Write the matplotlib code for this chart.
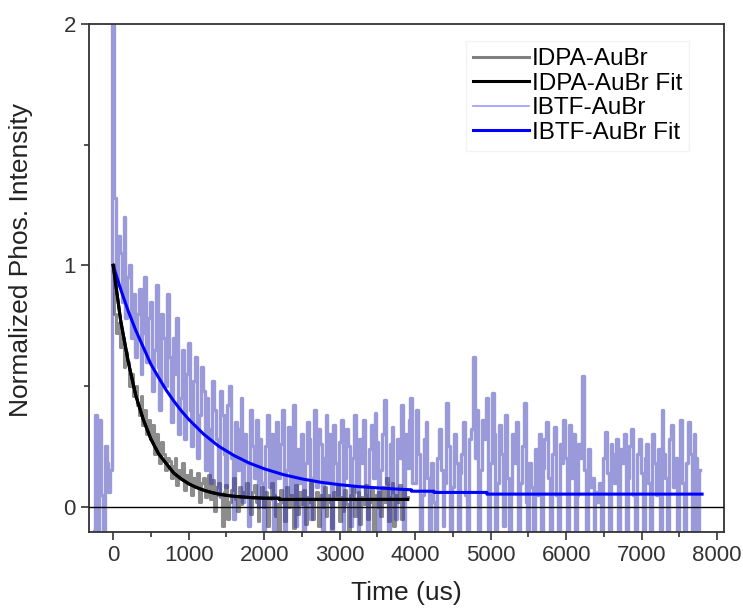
import numpy as np
import matplotlib
matplotlib.use("Agg")
import matplotlib.pyplot as plt
from matplotlib.ticker import MultipleLocator

plt.rcParams['font.family'] = ['Liberation Sans', 'DejaVu Sans']

# ---- data ----
# IDPA-AuBr decay, sampled every 25 us from 0 to 3900 us
idpa_t = np.arange(0, 3901, 25)
idpa_y = [
    1.00, 0.80, 0.72, 0.76, 0.66, 0.70, 0.58, 0.64, 0.60, 0.50,
    0.55, 0.46, 0.50, 0.42, 0.38, 0.46, 0.34, 0.40, 0.30, 0.36,
    0.28, 0.34, 0.22, 0.30, 0.25, 0.18, 0.27, 0.22, 0.15, 0.20,
    0.19, 0.12, 0.17, 0.20, 0.09, 0.15, 0.12, 0.18, 0.07, 0.13,
    0.10, 0.15, 0.05, 0.12, 0.08, 0.14, 0.02, 0.10, 0.12, 0.04,
    0.09, 0.13, 0.03, 0.11, -0.02, 0.08, 0.10, 0.04, -0.08, 0.06,
    0.09, -0.05, 0.02, 0.07, 0.12, 0.03, -0.02, 0.08, 0.01, 0.06,
    0.05, 0.10, 0.04, -0.03, 0.06, 0.09, 0.02, -0.06, 0.04, 0.08,
    0.00, 0.06, -0.08, 0.03, 0.10, 0.05, -0.04, 0.01, -0.10, 0.07,
    0.02, -0.06, 0.08, 0.00, 0.05, 0.04, -0.09, 0.09, -0.03, 0.06,
    0.01, 0.07, -0.07, 0.04, 0.02, 0.10, -0.05, 0.03, 0.06, -0.08,
    0.05, 0.00, 0.08, -0.04, 0.05, 0.02, -0.09, 0.06, 0.03, 0.09,
    -0.06, 0.04, -0.02, 0.07, 0.01, -0.10, 0.05, 0.08, -0.04, 0.03,
    0.06, -0.07, 0.04, 0.01, 0.09, -0.05, 0.02, 0.07, -0.10, 0.05,
    0.00, 0.06, -0.04, 0.08, 0.02, 0.12, -0.06, 0.04, 0.10, -0.08,
    0.05, 0.02, 0.09, -0.05, 0.07, 0.03, 0.04,
]

# IBTF-AuBr decay, sampled every 25 us from -250 to 7775 us
ibtf_t = np.arange(-250, 7800, 25)
ibtf_y = [
    -0.10, 0.38, -0.10, 0.36, 0.05, -0.10, 0.25, 0.18, 0.06, 0.15,
    2.00, 1.28, 0.92, 1.12, 1.05, 0.85, 1.20, 0.78, 0.95, 1.00,
    0.70, 0.88, 0.62, 0.80, 0.90, 0.55, 0.72, 0.95, 0.60, 0.78,
    0.85, 0.48, 0.65, 0.92, 0.58, 0.40, 0.80, 0.70, 0.50, 0.88,
    0.62, 0.35, 0.70, 0.55, 0.78, 0.30, 0.45, 0.65, 0.28, 0.55,
    0.68, 0.40, 0.25, 0.52, 0.62, 0.20, 0.38, 0.58, 0.48, 0.15,
    0.45, 0.32, 0.10, 0.52, 0.40, 0.28, 0.05, 0.48, 0.38, 0.22,
    0.08, 0.42, 0.50, 0.20, -0.05, 0.35, 0.15, 0.32, 0.45, 0.02,
    0.30, 0.18, -0.08, 0.40, 0.25, 0.12, 0.36, 0.00, 0.28, 0.10,
    -0.10, 0.25, 0.38, 0.08, 0.30, -0.12, 0.20, 0.35, 0.12, 0.26,
    0.40, -0.10, 0.15, 0.33, 0.05, 0.28, 0.42, -0.08, 0.24, 0.10,
    0.30, -0.12, 0.18, 0.35, 0.28, -0.05, 0.12, 0.40, 0.08, 0.32,
    0.26, -0.10, 0.20, 0.38, 0.10, 0.30, -0.12, 0.34, 0.18, 0.05,
    0.27, 0.36, -0.10, 0.12, 0.32, 0.25, -0.08, 0.20, 0.38, 0.06,
    -0.12, 0.28, 0.18, 0.36, 0.05, -0.10, 0.24, 0.34, 0.12, 0.39,
    0.27, -0.10, 0.15, 0.30, 0.44, 0.10, -0.12, 0.26, 0.33, 0.06,
    -0.05, 0.28, 0.20, 0.42, -0.12, 0.30, 0.16, 0.36, 0.45, 0.10,
    0.10, 0.40, 0.22, -0.12, 0.05, 0.28, 0.35, 0.12, -0.15, 0.18,
    0.02, -0.12, 0.20, 0.32, 0.15, -0.08, 0.10, 0.43, 0.25, -0.15,
    0.08, 0.30, 0.18, -0.12, 0.14, 0.22, 0.35, 0.05, -0.15, 0.28,
    0.32, 0.62, 0.20, 0.40, -0.12, 0.15, 0.36, 0.28, 0.45, -0.10,
    0.18, 0.47, 0.30, -0.15, 0.10, 0.34, 0.22, -0.08, 0.38, 0.12,
    -0.12, 0.06, 0.30, 0.18, 0.35, -0.15, 0.10, 0.25, 0.43, 0.02,
    -0.12, 0.18, 0.08, -0.15, 0.24, 0.05, 0.30, -0.10, 0.16, 0.28,
    0.35, 0.12, -0.12, 0.22, 0.33, 0.05, -0.15, 0.26, 0.18, 0.36,
    0.20, -0.10, 0.34, 0.12, 0.30, -0.15, 0.05, 0.26, 0.20, 0.54,
    0.15, -0.12, 0.24, 0.08, 0.12, -0.15, 0.06, 0.02, 0.10, -0.12,
    0.20, 0.31, 0.14, -0.12, 0.26, 0.22, 0.10, 0.28, -0.15, 0.24,
    0.18, 0.30, -0.12, 0.12, 0.25, 0.32, 0.05, -0.15, 0.22, 0.28,
    0.14, -0.10, 0.20, 0.26, 0.10, -0.15, 0.30, 0.18, 0.05, 0.24,
    -0.12, 0.40, 0.22, 0.12, -0.15, 0.28, 0.34, 0.08, 0.20, -0.12,
    0.16, 0.36, 0.10, -0.15, 0.18, 0.35, 0.22, -0.12, 0.30, 0.20,
    -0.10, 0.15,
]

# fitted curves
idpa_fit_t = [0, 100, 200, 300, 400, 500, 600, 700, 800, 900, 1000, 1100, 1200,
              1300, 1400, 1500, 1600, 1800, 2000, 2200, 2200, 3900]
idpa_fit_y = [1.00, 0.77, 0.60, 0.46, 0.36, 0.28, 0.22, 0.18, 0.14, 0.115, 0.095,
              0.08, 0.068, 0.059, 0.052, 0.047, 0.043, 0.038, 0.035, 0.035, 0.03, 0.03]

ibtf_fit_t = [0, 100, 200, 300, 400, 500, 600, 700, 800, 900, 1000, 1200, 1400,
              1600, 1800, 2000, 2250, 2500, 2750, 3000, 3250, 3500, 3750, 3950,
              3950, 4250, 4250, 4950, 4950, 7800]
ibtf_fit_y = [1.00, 0.90, 0.81, 0.73, 0.66, 0.59, 0.536, 0.484, 0.439, 0.398, 0.362,
              0.30, 0.25, 0.212, 0.181, 0.157, 0.133, 0.115, 0.101, 0.091, 0.083,
              0.078, 0.073, 0.070, 0.064, 0.064, 0.059, 0.059, 0.052, 0.052]

labels = ["IDPA-AuBr", "IDPA-AuBr Fit", "IBTF-AuBr", "IBTF-AuBr Fit"]

fig = plt.figure(figsize=(7.43, 6.10), dpi=100)
ax = fig.add_axes([89/743, 1-532/610, (724-89)/743, (532-24)/610])

ax.plot(idpa_t, idpa_y, color="#8c8c8c", lw=2.2, drawstyle="steps-mid", label=labels[0])
ax.plot(idpa_fit_t, idpa_fit_y, color="black", lw=2.2, label=labels[1])
ax.plot(ibtf_t, ibtf_y, color="#3636b8", alpha=0.5, lw=2.4, drawstyle="steps-mid", label=labels[2])
ax.plot(ibtf_fit_t, ibtf_fit_y, color="#0000ff", lw=2.2, label=labels[3])
ax.plot(idpa_fit_t, idpa_fit_y, color="black", lw=2.2)   # keep black fit on top
ax.axhline(0, color="black", lw=1.0, zorder=5)

ax.set_xlim(-320, 8090)
ax.set_ylim(-0.105, 2.0)
ax.xaxis.set_major_locator(MultipleLocator(1000))
ax.xaxis.set_minor_locator(MultipleLocator(500))
ax.yaxis.set_major_locator(MultipleLocator(1))
ax.yaxis.set_minor_locator(MultipleLocator(0.5))
ax.tick_params(which="both", direction="out", top=False, right=False,
               colors="#333333", labelsize=16, width=1.2)
ax.tick_params(which="major", length=6)
ax.tick_params(which="minor", length=3.5)
for sp in ax.spines.values():
    sp.set_color("#333333")
    sp.set_linewidth(1.3)

ax.set_xlabel("Time (us)", fontsize=19, color="#222222", labelpad=11)
ax.set_ylabel("Normalized Phos. Intensity", fontsize=19, color="#222222")
ax.yaxis.set_label_coords(-0.088, 0.535)

leg = ax.legend(loc="upper left", bbox_to_anchor=(466/743, 1-41/610),
                bbox_transform=fig.transFigure, fontsize=17.5, frameon=True,
                fancybox=False, edgecolor="#f0f0f0", handlelength=2.3,
                handletextpad=0.1, labelspacing=0.1, borderpad=0.3,
                borderaxespad=0)
for h in leg.get_lines():
    h.set_alpha(1)
    h.set_linewidth(2.2)
leg.get_lines()[0].set_color("#808080")
leg.get_lines()[2].set_color("#9999ff")
leg.get_lines()[2].set_linewidth(1.2)

fig.savefig("out.png", dpi=100)
